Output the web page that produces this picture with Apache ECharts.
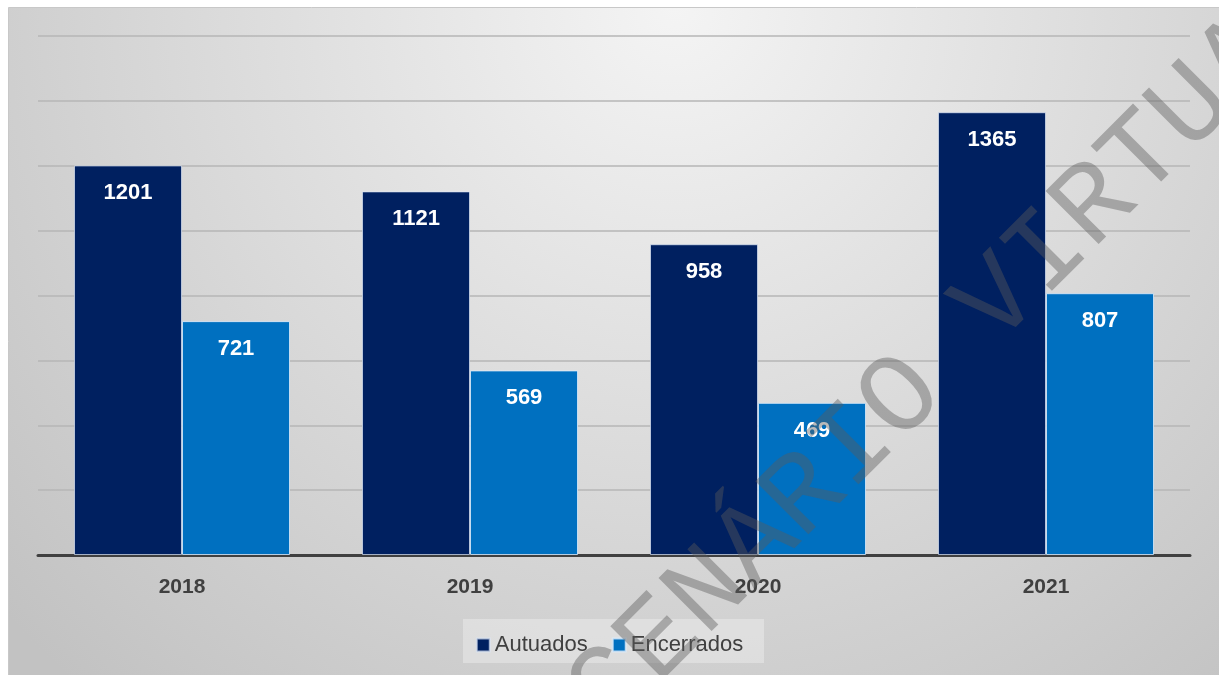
<!DOCTYPE html>
<html>
<head>
<meta charset="utf-8">
<script src="https://cdn.jsdelivr.net/npm/echarts@6/dist/echarts.min.js"></script>
<style>html,body{margin:0;padding:0;background:#fff}#c{width:1219px;height:675px}</style>
</head>
<body>
<div id="c"></div>
<script>
const categories = ['2018', '2019', '2020', '2021'];
const autuados = [1201, 1121, 958, 1365];
const encerrados = [721, 569, 469, 807];
const seriesNames = ['Autuados', 'Encerrados'];
const watermark = 'CENÁRIO VIRTUAL';

const sans = "'Liberation Sans', Arial, sans-serif";
const chart = echarts.init(document.getElementById('c'));
const labelStyle = {
  show: true, position: 'insideTop', distance: 17,
  color: '#fff', fontWeight: 'bold', fontSize: 22, fontFamily: sans
};
chart.setOption({
  animation: false,
  backgroundColor: '#fff',
  graphic: [
    { type: 'rect', left: 8, top: 7, z: -10, silent: true,
      shape: { width: 1211, height: 668 },
      style: { fill: { type: 'radial', x: 0.55, y: 0.0, r: 1.35,
        colorStops: [{ offset: 0, color: '#f4f4f4' }, { offset: 1, color: '#c2c2c2' }] },
        stroke: '#c8c8c8', lineWidth: 1 } },
    { type: 'rect', left: 463, top: 619, z: -5, silent: true,
      shape: { width: 301, height: 44 },
      style: { fill: 'rgba(255,255,255,0.3)' } },
    { type: 'text', x: 950, y: 350, rotation: Math.PI / 4, z: 100, silent: true,
      style: { text: watermark, font: "114px 'Liberation Mono', 'Courier New', monospace",
        fill: 'rgba(90,90,90,0.42)', align: 'center', verticalAlign: 'middle' } }
  ],
  legend: {
    data: seriesNames, bottom: 14, left: 'center',
    itemWidth: 13, itemHeight: 13, itemGap: 24, icon: 'rect',
    textStyle: { fontSize: 22, color: '#404040', fontFamily: sans }
  },
  grid: { left: 38, right: 29, top: 36, bottom: 120 },
  xAxis: {
    type: 'category', data: categories,
    axisLine: { lineStyle: { color: '#404040', width: 3 } },
    axisTick: { show: false },
    axisLabel: { margin: 22, fontSize: 21, fontWeight: 'bold', color: '#404040', fontFamily: sans }
  },
  yAxis: {
    type: 'value', min: 0, max: 1600, interval: 200,
    axisLabel: { show: false }, axisLine: { show: false }, axisTick: { show: false },
    splitLine: { lineStyle: { color: '#b6b6b6', width: 1.5 } }
  },
  series: [
    { name: seriesNames[0], type: 'bar', data: autuados, barGap: '0%', barCategoryGap: '25%',
      itemStyle: { color: '#002060', borderColor: 'rgba(220,230,245,0.7)', borderWidth: 1 },
      label: labelStyle },
    { name: seriesNames[1], type: 'bar', data: encerrados,
      itemStyle: { color: '#0070C0', borderColor: 'rgba(220,235,250,0.8)', borderWidth: 1 },
      label: labelStyle }
  ]
});
</script>
</body>
</html>
